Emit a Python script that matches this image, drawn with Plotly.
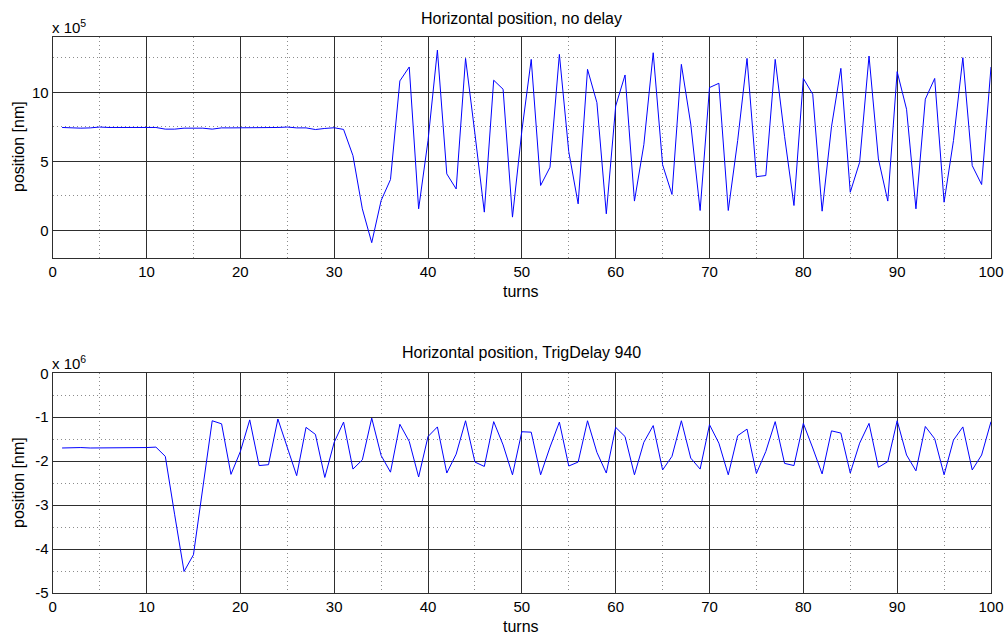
import numpy as np
import plotly.graph_objects as go

# turn numbers
turns = list(range(1, 101))

# horizontal position without delay, in units of 1e5 nm
pos_no_delay_e5 = [
    7.45, 7.40, 7.40, 7.42, 7.48, 7.45, 7.45, 7.45, 7.45, 7.45,
    7.45, 7.33, 7.33, 7.40, 7.40, 7.40, 7.33, 7.42, 7.42, 7.42,
    7.42, 7.42, 7.42, 7.45, 7.48, 7.42, 7.42, 7.30, 7.38, 7.43,
    7.31, 5.41, 1.56, -0.89, 2.16, 3.68, 10.82, 11.83, 1.56, 6.50,
    13.05, 4.09, 3.00, 12.45, 7.00, 1.32, 10.87, 10.22, 0.96, 7.20,
    12.38, 3.25, 4.57, 12.74, 5.70, 1.92, 11.66, 9.25, 1.20, 9.00,
    11.25, 2.12, 6.20, 12.86, 4.75, 2.60, 12.02, 7.70, 1.44, 10.34,
    10.65, 1.44, 6.50, 12.45, 3.89, 3.97, 12.38, 6.80, 1.80, 11.00,
    9.86, 1.39, 7.50, 11.73, 2.76, 4.93, 12.62, 5.17, 2.12, 11.49,
    8.77, 1.56, 9.50, 11.00, 2.04, 6.50, 12.50, 4.69, 3.32, 11.83,
]

# horizontal position with TrigDelay 940, in units of 1e6 nm
pos_trig940_e6 = [
    -1.70, -1.69, -1.69, -1.70, -1.70, -1.69, -1.69, -1.69, -1.69, -1.69,
    -1.68, -1.89, -3.22, -4.51, -4.13, -2.60, -1.08, -1.15, -2.30, -1.78,
    -1.06, -2.10, -2.08, -1.04, -1.68, -2.33, -1.23, -1.39, -2.37, -1.57,
    -1.11, -2.18, -1.97, -1.02, -1.87, -2.25, -1.16, -1.55, -2.36, -1.44,
    -1.22, -2.27, -1.84, -1.08, -2.02, -2.12, -1.10, -1.63, -2.31, -1.33,
    -1.34, -2.31, -1.68, -1.11, -2.11, -2.02, -1.08, -1.80, -2.27, -1.23,
    -1.44, -2.31, -1.57, -1.19, -2.20, -1.89, -1.08, -1.93, -2.18, -1.17,
    -1.59, -2.31, -1.42, -1.27, -2.28, -1.78, -1.10, -2.05, -2.10, -1.14,
    -1.70, -2.29, -1.31, -1.36, -2.27, -1.59, -1.14, -2.14, -2.01, -1.08,
    -1.86, -2.22, -1.21, -1.49, -2.31, -1.52, -1.22, -2.20, -1.86, -1.10,
]

top_scale = 1e5
bottom_scale = 1e6
top_ticks = [0, 5, 10]
bottom_ticks = [0, -1, -2, -3, -4, -5]
x_ticks = list(range(0, 101, 10))

W, H = 1006, 634
FONT = "Liberation Sans, Arial, Helvetica, sans-serif"
FS = 16        # titles and axis labels
TICK_FS = 15   # tick labels
MAJOR = "#2e2e2e"
MINOR = "#8c8c8c"
DOTS = "1px,3px"

x_dom = [52.7 / W, 991 / W]
top_dom = [1 - 258 / H, 1 - 37 / H]
bot_dom = [1 - 593 / H, 1 - 373.3 / H]

fig = go.Figure()
fig.add_trace(go.Scatter(
    x=turns, y=np.array(pos_no_delay_e5) * top_scale, mode="lines",
    line=dict(color="#0000ff", width=1), xaxis="x", yaxis="y", showlegend=False))
fig.add_trace(go.Scatter(
    x=turns, y=np.array(pos_trig940_e6) * bottom_scale, mode="lines",
    line=dict(color="#0000ff", width=1), xaxis="x2", yaxis="y2", showlegend=False))

axis_common = dict(
    showline=True, linecolor=MAJOR, linewidth=1, mirror="ticks",
    ticks="inside", ticklen=5, tickcolor=MAJOR,
    showgrid=True, gridcolor=MAJOR, gridwidth=1,
    zeroline=False, automargin=False,
    tickfont=dict(family=FONT, size=TICK_FS, color="#000"),
)

def xaxis(anchor):
    return dict(axis_common, domain=x_dom, anchor=anchor, range=[0, 100],
                tickmode="array", tickvals=x_ticks,
                ticktext=[str(v) for v in x_ticks],
                minor=dict(dtick=5, tick0=0, showgrid=True, gridcolor=MINOR,
                           griddash=DOTS, gridwidth=1, ticks=""))

fig.update_layout(
    width=W, height=H, margin=dict(l=0, r=0, t=0, b=0),
    paper_bgcolor="white", plot_bgcolor="white",
    font=dict(family=FONT, size=FS, color="#000"),
    xaxis=xaxis("y"),
    yaxis=dict(axis_common, domain=top_dom, anchor="x",
               range=[-2 * top_scale, 14 * top_scale],
               tickmode="array", tickvals=[v * top_scale for v in top_ticks],
               ticktext=[str(v) for v in top_ticks],
               minor=dict(tickvals=[v * top_scale for v in [2.5, 7.5, 12.5]],
                          showgrid=True, gridcolor=MINOR, griddash=DOTS,
                          gridwidth=1, ticks="")),
    xaxis2=xaxis("y2"),
    yaxis2=dict(axis_common, domain=bot_dom, anchor="x2",
                range=[-5 * bottom_scale, 0],
                tickmode="array", tickvals=[v * bottom_scale for v in bottom_ticks],
                ticktext=[str(v) for v in bottom_ticks],
                minor=dict(tickvals=[v * bottom_scale for v in [-0.5, -1.5, -2.5, -3.5, -4.5]],
                           showgrid=True, gridcolor=MINOR, griddash=DOTS,
                           gridwidth=1, ticks="")),
)

def label(text, x, y, size=FS, angle=0, xanchor="center", yanchor="middle"):
    fig.add_annotation(text=text, x=x / W, y=1 - y / H, xref="paper", yref="paper",
                       showarrow=False, textangle=angle, xanchor=xanchor,
                       yanchor=yanchor, font=dict(family=FONT, size=size, color="#000"))

label("Horizontal position, no delay", 521, 18)
label("turns", 521, 291)
label("position [nm]", 18, 147, angle=-90)
label("x 10<sup>5</sup>", 50, 27, xanchor="left", size=15)

label("Horizontal position, TrigDelay 940", 521, 352)
label("turns", 521, 626)
label("position [nm]", 18, 483, angle=-90)
label("x 10<sup>6</sup>", 50, 362, xanchor="left", size=15)

fig.write_html("out.html")
